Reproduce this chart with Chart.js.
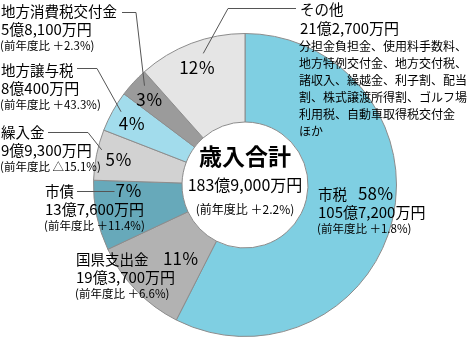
<!DOCTYPE html>
<html>
<head>
<meta charset="utf-8">
<script src="https://cdn.jsdelivr.net/npm/chart.js@4"></script>
<style>
  body { margin: 0; background: #fff; }
  canvas { display: block; }
</style>
</head>
<body>
<canvas id="revenueChart" width="468" height="338"></canvas>
<script>
const categories = ['市税', '国県支出金', '市債', '繰入金', '地方譲与税', '地方消費税交付金', 'その他'];
const amounts = [105.72, 19.37, 13.76, 9.93, 8.04, 5.81, 21.27]; // 億円
const pctLabels = ['58％', '11％', '7％', '5％', '4％', '3％', '12％'];
const amountLabels = ['105億7,200万円', '19億3,700万円', '13億7,600万円', '9億9,300万円', '8億400万円', '5億8,100万円', '21億2,700万円'];
const yoyLabels = ['(前年度比 ＋1.8%)', '(前年度比 ＋6.6%)', '(前年度比 ＋11.4%)', '(前年度比 △15.1%)', '(前年度比 ＋43.3%)', '(前年度比 ＋2.3%)', ''];
const otherNote = ['分担金負担金、使用料手数料、', '地方特例交付金、地方交付税、', '諸収入、繰越金、利子割、配当', '割、株式譲渡所得割、ゴルフ場', '利用税、自動車取得税交付金', 'ほか'];
const totalTitle = '歳入合計';
const totalAmount = '183億9,000万円';
const totalYoy = '(前年度比 ＋2.2%)';

const colors = ['#7fcfe2', '#b2b2b2', '#67a9ba', '#d2d2d2', '#a2dcec', '#9b9b9b', '#e5e5e5'];
const FONT = "'Noto Sans CJK JP', 'Noto Sans', sans-serif";

// where each text block sits and how its percentage is shown
const blocks = [
    { x: 318, y: 194, pct: 'inline', pctX: 358 },
    { x: 76, y: 259, pct: 'inline', pctX: 163 },
    { x: 45, y: 191, pct: 'leader', lineFrom: [77, 191] },
    { x: 1, y: 132, pct: 'inside', lineFrom: [48, 132], bend: [88, 132], off: [-17, -10] },
    { x: 1, y: 70, pct: 'inside', lineFrom: [77, 68], bend: [97, 68], off: [-11, -12] },
    { x: 1, y: 11, pct: 'inside', lineFrom: [122, 12], bend: [136, 12], off: [-5, -14] },
    { x: 300, y: 9, pct: 'inside', lineFrom: [296, 8], bend: [228, 8], off: [6, -14] }
];

const labelPlugin = {
    id: 'labels',
    afterDraw(chart) {
        const ctx = chart.ctx;
        const meta = chart.getDatasetMeta(0);
        ctx.save();
        ctx.fillStyle = '#000';
        ctx.strokeStyle = '#555';
        ctx.lineWidth = 1;
        ctx.textBaseline = 'middle';
        ctx.textAlign = 'left';

        meta.data.forEach((arc, i) => {
            const p = arc.getProps(['x', 'y', 'startAngle', 'endAngle', 'innerRadius', 'outerRadius'], true);
            const mid = (p.startAngle + p.endAngle) / 2;
            const r = p.innerRadius + 0.71 * (p.outerRadius - p.innerRadius);
            const px = p.x + r * Math.cos(mid) - 3;
            const py = p.y + r * Math.sin(mid);
            const b = blocks[i];

            // name line
            ctx.font = '14.5px ' + FONT;
            ctx.fillText(categories[i], b.x, b.y);
            let amountY = b.y + 18;
            if (i === 6) amountY = b.y + 19;
            ctx.font = '15px ' + FONT;
            ctx.fillText(amountLabels[i], b.x, amountY);
            if (yoyLabels[i]) {
                ctx.font = '11.5px ' + FONT;
                ctx.fillText(yoyLabels[i], b.x - 1, amountY + 17);
            }

            ctx.font = '17px ' + FONT;
            if (b.pct === 'inline') {
                ctx.fillText(pctLabels[i], b.pctX, b.y);
            } else if (b.pct === 'leader') {
                const w = ctx.measureText(pctLabels[i]).width;
                const lx = px + 10 - w / 2;
                ctx.beginPath();
                ctx.moveTo(b.lineFrom[0], b.lineFrom[1] + 0.5);
                ctx.lineTo(lx - 1, b.lineFrom[1] + 0.5);
                ctx.stroke();
                ctx.fillText(pctLabels[i], lx, b.y);
            } else {
                ctx.textAlign = 'center';
                ctx.fillText(pctLabels[i], px, py);
                ctx.textAlign = 'left';
                ctx.beginPath();
                ctx.moveTo(b.lineFrom[0], b.lineFrom[1] + 0.5);
                ctx.lineTo(b.bend[0], b.bend[1] + 0.5);
                ctx.lineTo(px + b.off[0], py + b.off[1]);
                ctx.stroke();
            }
        });

        // note under その他
        ctx.font = '12px ' + FONT;
        otherNote.forEach((line, k) => {
            ctx.fillText(line, 299, 46 + k * 17);
        });

        // centre
        const c = meta.data[0];
        ctx.textAlign = 'center';
        ctx.font = 'bold 23px ' + FONT;
        ctx.fillText(totalTitle, c.x, 156);
        ctx.font = '16px ' + FONT;
        ctx.fillText(totalAmount, c.x, 185);
        ctx.font = '12px ' + FONT;
        ctx.fillText(totalYoy, c.x, 209);
        ctx.restore();
    }
};

new Chart(document.getElementById('revenueChart'), {
    type: 'doughnut',
    data: {
        labels: categories,
        datasets: [{
            data: amounts,
            backgroundColor: colors,
            borderColor: '#8c8c8c',
            borderWidth: 1
        }]
    },
    options: {
        responsive: false,
        animation: false,
        cutout: 63,
        layout: { padding: { left: 93, right: 71, top: 33, bottom: 1 } },
        plugins: {
            legend: { display: false },
            tooltip: { enabled: false }
        }
    },
    plugins: [labelPlugin]
});
</script>
</body>
</html>
